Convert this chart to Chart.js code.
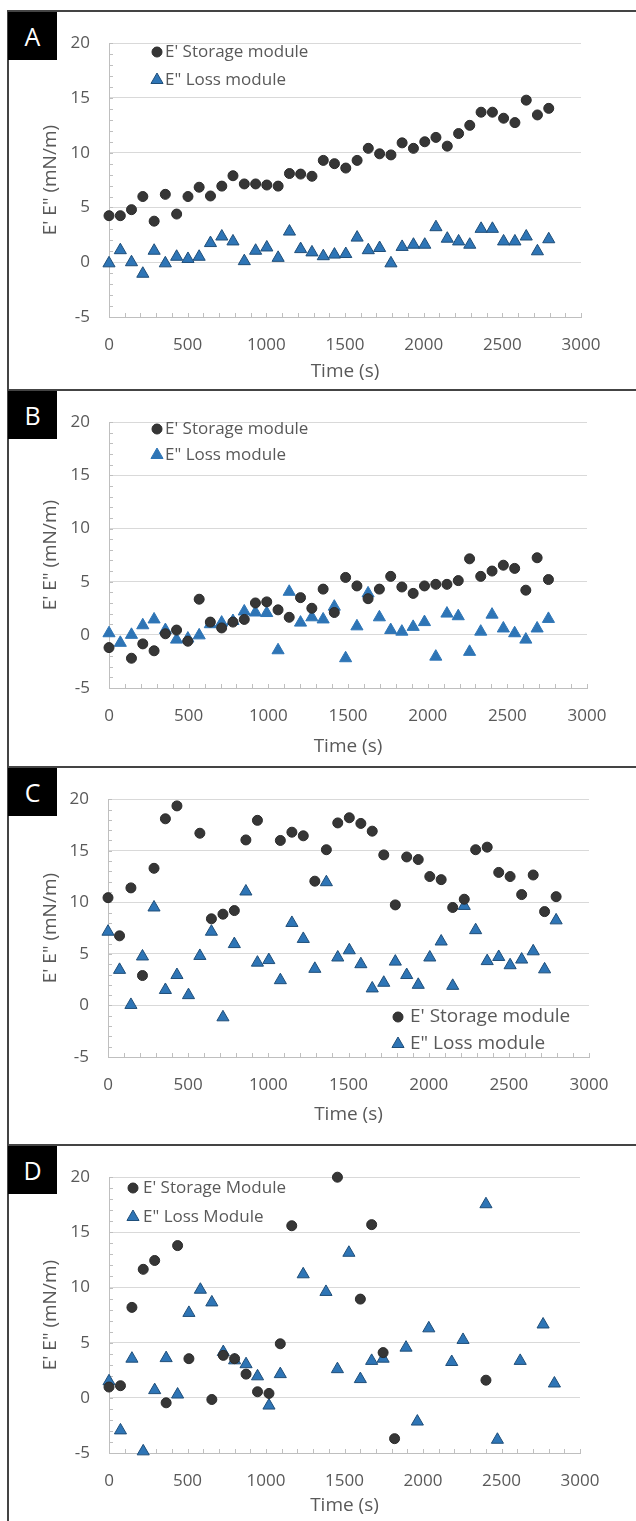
<!DOCTYPE html>
<html>
<head>
<meta charset="utf-8">
<title>E' E" vs time</title>
<script src="https://cdn.jsdelivr.net/npm/chart.js@4.4.1/dist/chart.umd.min.js"></script>
<style>
	html, body { margin: 0; padding: 0; background: #fff; }
	#page { position: relative; width: 636px; height: 1521px; overflow: hidden; font-family: 'Open Sans', sans-serif; }
	.frame { position: absolute; background: #444; }
	.tag { position: absolute; left: 8px; width: 49px; height: 48px; background: #000; color: #fff; font-size: 25px; line-height: 48px; text-align: center; }
	.panel { position: absolute; left: 10px; }
</style>
</head>
<body>
<div id="page">
	<div class="frame" style="left:7px;top:11px;width:2px;height:1510px;"></div>
	<div class="frame" style="left:7px;top:10px;width:629px;height:2px;"></div>
	<div class="frame" style="left:7px;top:389px;width:629px;height:2px;"></div>
	<div class="frame" style="left:7px;top:766px;width:629px;height:2px;"></div>
	<div class="frame" style="left:7px;top:1144px;width:629px;height:2px;"></div>

	<div class="tag" style="top:12px;">A</div>
	<div class="tag" style="top:391px;">B</div>
	<div class="tag" style="top:768px;">C</div>
	<div class="tag" style="top:1146px;">D</div>

	<canvas id="chartA" class="panel" style="top:14px;" width="626" height="374"></canvas>
	<canvas id="chartB" class="panel" style="top:393px;" width="626" height="371"></canvas>
	<canvas id="chartC" class="panel" style="top:770px;" width="626" height="372"></canvas>
	<canvas id="chartD" class="panel" style="top:1148px;" width="626" height="373"></canvas>
</div>

<script>
// time (s) and moduli (mN/m), null = no point
var timeA = [0, 72, 143, 215, 287, 358, 430, 502, 573, 645, 717, 788, 860, 932, 1003, 1075, 1147, 1218, 1290, 1362, 1433, 1505, 1577, 1648, 1720, 1792, 1863, 1935, 2007, 2078, 2150, 2222, 2293, 2365, 2437, 2508, 2580, 2652, 2723, 2795];
var storageA = [4.25, 4.25, 4.8, 6.0, 3.75, 6.2, 4.4, 6.0, 6.85, 6.05, 6.95, 7.9, 7.15, 7.15, 7.05, 6.95, 8.1, 8.05, 7.85, 9.3, 9.0, 8.6, 9.3, 10.4, 9.9, 9.8, 10.9, 10.4, 11.0, 11.4, 10.6, 11.75, 12.5, 13.7, 13.7, 13.15, 12.75, 14.8, 13.45, 14.05];
var lossA = [-0.1, 1.1, 0.0, -1.05, 1.05, -0.1, 0.5, 0.3, 0.5, 1.75, 2.35, 1.9, 0.1, 1.05, 1.35, 0.4, 2.8, 1.2, 0.9, 0.55, 0.7, 0.75, 2.25, 1.1, 1.3, -0.1, 1.4, 1.6, 1.6, 3.2, 2.15, 1.9, 1.6, 3.05, 3.05, 1.9, 1.9, 2.35, 1.0, 2.1];

var timeB = [0, 71, 141, 212, 283, 354, 424, 495, 566, 636, 707, 778, 849, 919, 990, 1061, 1131, 1202, 1273, 1344, 1414, 1485, 1556, 1626, 1697, 1768, 1838, 1909, 1980, 2051, 2121, 2192, 2263, 2333, 2404, 2475, 2546, 2616, 2687, 2758];
var storageB = [-1.2, null, -2.2, -0.85, -1.5, 0.1, 0.45, -0.6, 3.35, 1.2, 0.65, 1.2, 1.45, 3.0, 3.1, 2.35, 1.65, 3.5, 2.5, 4.3, 2.1, 5.4, 4.6, 3.4, 4.3, 5.5, 4.5, 3.9, 4.6, 4.75, 4.75, 5.1, 7.15, 5.5, 6.0, 6.55, 6.25, 4.2, 7.25, 5.2];
var lossB = [0.15, -0.75, 0.0, 0.9, 1.45, 0.45, -0.45, -0.35, -0.05, 1.0, 1.15, 1.3, 2.2, 2.1, 2.05, -1.45, 4.05, 1.15, 1.65, 1.45, 2.65, -2.2, 0.8, 3.9, 1.65, 0.45, 0.3, 0.75, 1.2, -2.05, 2.0, 1.75, -1.6, 0.3, 1.9, 0.6, 0.15, -0.45, 0.6, 1.5];

var timeC = [0, 72, 143, 215, 287, 358, 430, 502, 573, 645, 717, 788, 860, 932, 1003, 1075, 1147, 1218, 1290, 1362, 1433, 1505, 1577, 1648, 1720, 1792, 1863, 1935, 2007, 2078, 2150, 2222, 2293, 2365, 2437, 2508, 2580, 2652, 2723, 2795];
var storageC = [10.45, 6.75, 11.4, 2.9, 13.3, 18.1, 19.35, null, 16.7, 8.4, 8.85, 9.2, 16.05, 17.95, null, 16.0, 16.8, 16.45, 12.05, 15.1, 17.7, 18.2, 17.65, 16.9, 14.6, 9.75, 14.4, 14.15, 12.5, 12.2, 9.5, 10.3, 15.1, 15.35, 12.9, 12.5, 10.75, 12.65, 9.1, 10.55];
var lossC = [7.15, 3.45, 0.05, 4.75, 9.5, 1.5, 2.95, 1.0, 4.8, 7.15, -1.15, 5.95, 11.05, 4.15, 4.4, 2.45, 8.0, 6.45, 3.55, 11.95, 4.65, 5.35, 4.0, 1.65, 2.2, 4.25, 2.95, 2.0, 4.65, 6.2, 1.9, 9.65, 7.3, 4.3, 4.7, 3.9, 4.45, 5.25, 3.5, 8.25];

var timeD = [0, 73, 146, 218, 291, 364, 437, 509, 582, 655, 728, 800, 873, 946, 1019, 1091, 1164, 1237, 1310, 1382, 1455, 1528, 1601, 1673, 1746, 1819, 1892, 1964, 2037, 2110, 2183, 2255, 2328, 2401, 2474, 2546, 2619, 2692, 2765, 2837];
var storageD = [0.98, 1.1, 8.2, 11.65, 12.45, -0.45, 13.8, 3.55, null, -0.15, 3.85, 3.55, 2.15, 0.55, 0.4, 4.9, 15.6, null, null, null, 20.0, null, 8.95, 15.7, 4.1, -3.7, null, null, null, null, null, null, null, 1.6, null, null, null, null, null, null];
var lossD = [1.5, -2.95, 3.55, -4.85, 0.7, 3.6, 0.3, 7.7, 9.8, 8.65, 4.15, 3.4, 3.05, 1.95, -0.7, 2.15, null, 11.2, null, 9.6, 2.6, 13.15, 1.7, 3.35, 3.55, null, 4.55, -2.15, 6.3, null, 3.25, 5.25, null, 17.55, -3.8, null, 3.35, null, 6.65, 1.3];

var xTitle = 'Time (s)';
var yTitle = 'E\' E" (mN/m)';

!(function(){
	'use strict';

	Chart.defaults.font.family = "'Open Sans', sans-serif";
	Chart.defaults.color = '#595959';

	function toPoints(time, values){
		var pts = [];
		for (var i = 0; i < time.length; i++) {
			if (values[i] !== null) pts.push({ x: time[i], y: values[i] });
		}
		return pts;
	}

	// small inward tick marks, Excel style
	var minorTicks = {
		id: 'minorTicks',
		beforeDatasetsDraw: function(chart){
			var ctx = chart.ctx, sx = chart.scales.x, sy = chart.scales.y, a = chart.chartArea;
			ctx.save();
			ctx.strokeStyle = '#bfbfbf';
			ctx.lineWidth = 1;
			ctx.beginPath();
			sx.ticks.forEach(function(t){
				var px = Math.round(sx.getPixelForValue(t.value)) + 0.5;
				ctx.moveTo(px, a.bottom);
				ctx.lineTo(px, a.bottom - 4);
			});
			sy.ticks.forEach(function(t){
				var py = Math.round(sy.getPixelForValue(t.value)) + 0.5;
				ctx.moveTo(a.left, py);
				ctx.lineTo(a.left + 4, py);
			});
			ctx.stroke();
			ctx.restore();
		}
	};

	// legend drawn inside the plot
	var insideLegend = {
		id: 'insideLegend',
		afterDatasetsDraw: function(chart, args, opts){
			var ctx = chart.ctx;
			chart.data.datasets.forEach(function(ds, i){
				var y = opts.y + i * opts.gap;
				ctx.save();
				ctx.fillStyle = ds.backgroundColor;
				ctx.strokeStyle = ds.borderColor;
				ctx.lineWidth = ds.borderWidth;
				Chart.helpers.drawPoint(ctx, { pointStyle: ds.pointStyle, radius: ds.pointRadius, rotation: 0, borderWidth: ds.borderWidth }, opts.x, y);
				ctx.fillStyle = '#595959';
				ctx.font = opts.size + "px 'Open Sans', sans-serif";
				ctx.textBaseline = 'middle';
				ctx.textAlign = 'left';
				ctx.fillText(ds.label, opts.textX, y);
				ctx.restore();
			});
		}
	};

	function makeChart(id, time, storage, loss, labels, lossBorder, lay){
		var ctx = document.getElementById(id).getContext('2d');
		return new Chart(ctx, {
			type: 'scatter',
			data: {
				datasets: [{
					label: labels[0],
					data: toPoints(time, storage),
					pointStyle: 'circle',
					pointRadius: 5,
					backgroundColor: '#363636',
					borderColor: '#2b2b2b',
					borderWidth: 1,
					clip: false
				}, {
					label: labels[1],
					data: toPoints(time, loss),
					pointStyle: 'triangle',
					pointRadius: 7,
					backgroundColor: '#2e75b6',
					borderColor: lossBorder,
					borderWidth: 1,
					clip: false
				}]
			},
			options: {
				responsive: false,
				animation: false,
				events: [],
				layout: { padding: { top: lay.padTop, right: lay.padRight, left: 0, bottom: 0 } },
				plugins: {
					legend: { display: false },
					tooltip: { enabled: false },
					insideLegend: lay.legend
				},
				scales: {
					x: {
						type: 'linear',
						min: 0,
						max: 3000,
						afterFit: function(s){ s.height = lay.xHeight; },
						grid: { display: false },
						border: { color: '#bfbfbf' },
						ticks: {
							stepSize: 100,
							autoSkip: false,
							maxRotation: 0,
							padding: 10,
							font: { size: 17 },
							callback: function(v){ return v % 500 === 0 ? String(v) : ''; }
						},
						title: { display: true, text: xTitle, font: { size: 19 }, padding: { top: 0, bottom: lay.xTitlePad } }
					},
					y: {
						min: -5,
						max: 20,
						afterFit: function(s){ s.width = lay.yWidth; },
						grid: {
							drawTicks: false,
							color: function(c){ return c.tick.value % 5 === 0 ? '#d9d9d9' : 'rgba(0,0,0,0)'; }
						},
						border: { color: '#bfbfbf' },
						ticks: {
							stepSize: 1,
							autoSkip: false,
							padding: 19,
							font: { size: 17 },
							callback: function(v){ return v % 5 === 0 ? String(v) : ''; }
						},
						title: { display: true, text: yTitle, font: { size: 19 }, padding: { top: 29.6, bottom: 0 } }
					}
				}
			},
			plugins: [minorTicks, insideLegend]
		});
	}

	makeChart('chartA', timeA, storageA, lossA, ['E\' Storage module', 'E" Loss module'], '#1f4e79', {
		padTop: 24, padRight: 55, yWidth: 99, xHeight: 71, xTitlePad: 4.6,
		legend: { x: 147, y: 38, gap: 28, textX: 155, size: 17 }
	});
	makeChart('chartB', timeB, storageB, lossB, ['E\' Storage module', 'E" Loss module'], '#2e75b6', {
		padTop: 21, padRight: 49, yWidth: 99, xHeight: 76, xTitlePad: 5.6,
		legend: { x: 147, y: 36, gap: 26, textX: 155, size: 17 }
	});
	makeChart('chartC', timeC, storageC, lossC, ['E\' Storage module', 'E" Loss module'], '#1f4e79', {
		padTop: 23, padRight: 47, yWidth: 98, xHeight: 85, xTitlePad: 15.6,
		legend: { x: 388, y: 247, gap: 27, textX: 400, size: 19 }
	});
	makeChart('chartD', timeD, storageD, lossD, ['E\' Storage Module', 'E" Loss Module'], '#1f4e79', {
		padTop: 25, padRight: 56, yWidth: 99, xHeight: 68, xTitlePad: 3.6,
		legend: { x: 123, y: 40, gap: 29, textX: 133, size: 17 }
	});
})();
</script>
</body>
</html>
